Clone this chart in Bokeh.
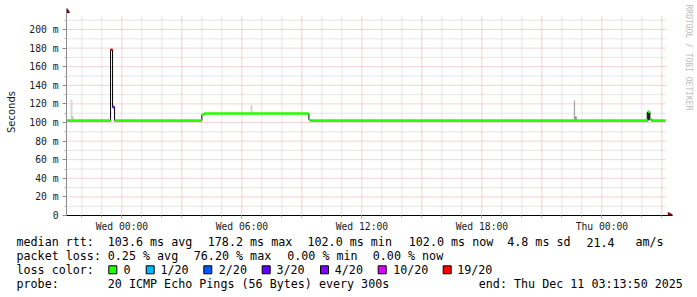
import math
import pandas as pd
from bokeh.plotting import figure
from bokeh.layouts import column
from bokeh.models import Range1d, FixedTicker
from bokeh.core.properties import value
from bokeh.embed import file_html
from bokeh.resources import INLINE

# ---------------- data ----------------
range_start = "2025-12-09 21:13:50"
range_end = "2025-12-11 03:13:50"

# median RTT (ms) as steps, with packet loss level of each step
seg_start = ["2025-12-09 21:15", "2025-12-09 23:26", "2025-12-09 23:32", "2025-12-09 23:38",
             "2025-12-10 04:00", "2025-12-10 04:06", "2025-12-10 09:21", "2025-12-10 09:25",
             "2025-12-11 02:18", "2025-12-11 02:24", "2025-12-11 02:29"]
seg_end = ["2025-12-09 23:26", "2025-12-09 23:32", "2025-12-09 23:38", "2025-12-10 04:00",
           "2025-12-10 04:06", "2025-12-10 09:21", "2025-12-10 09:25", "2025-12-11 02:18",
           "2025-12-11 02:24", "2025-12-11 02:29", "2025-12-11 03:10"]
seg_rtt_ms = [102.0, 178.2, 116.5, 102.0, 108.3, 109.6, 103.0, 102.0, 111.5, 103.5, 102.0]
seg_loss = ["0", "19/20", "3/20", "0", "0", "0", "0", "0", "0", "0", "0"]

# smoke (spread of the individual pings)
smoke_start = ["2025-12-09 21:25:50", "2025-12-09 21:28:50", "2025-12-10 06:25:50",
               "2025-12-10 22:35:40", "2025-12-10 22:38:50", "2025-12-11 02:13:50",
               "2025-12-11 02:16:50"]
smoke_end = ["2025-12-09 21:31:50", "2025-12-09 21:34:50", "2025-12-10 06:31:50",
             "2025-12-10 22:39:40", "2025-12-10 22:44:50", "2025-12-11 02:17:50",
             "2025-12-11 02:23:50"]
smoke_low = [104.0, 103.5, 110.5, 103.0, 103.0, 102.0, 102.5]
smoke_high = [124.7, 106.5, 118.5, 123.7, 106.5, 111.0, 111.5]
smoke_shade = ["#d9d9d9", "#bdbdbd", "#d4d4d4", "#a8a8a8", "#8c8c8c", "#7a7a7a", "#333333"]

loss_levels = ["0", "1/20", "2/20", "3/20", "4/20", "10/20", "19/20"]
loss_colors = ["#26ff00", "#00b8ff", "#0059ff", "#5e00ff", "#7e00ff", "#dd00ff", "#ff0000"]

y_ticks = [0, 20, 40, 60, 80, 100, 120, 140, 160, 180, 200]
y_tick_labels = ["0", "20 m", "40 m", "60 m", "80 m", "100 m", "120 m", "140 m", "160 m", "180 m", "200 m"]
y_minor = [10, 30, 50, 70, 90, 110, 130, 150, 170, 190, 210]
x_ticks = ["2025-12-10 00:00", "2025-12-10 06:00", "2025-12-10 12:00", "2025-12-10 18:00", "2025-12-11 00:00"]
x_tick_labels = ["Wed 00:00", "Wed 06:00", "Wed 12:00", "Wed 18:00", "Thu 00:00"]

stats_rtt = ["median rtt:", "103.6 ms avg", "178.2 ms max", "102.0 ms min", "102.0 ms now", "4.8 ms sd", "21.4", "am/s"]
stats_loss = ["packet loss:", "0.25 % avg", "76.20 % max", "0.00 % min", "0.00 % now"]
probe_line = ["probe:", "20 ICMP Echo Pings (56 Bytes) every 300s", "end: Thu Dec 11 03:13:50 2025"]
watermark = "RRDTOOL / TOBI OETIKER"

# ---------------- layout ----------------
def ms(s):
    return pd.Timestamp(s).value / 1e6

MS_PER_PX = 180000.0          # 20 px per hour
PX_PER_VAL = 0.93             # px per ms of rtt
t0, t1 = ms(range_start), ms(range_end)
x_end = t1 + 6 * MS_PER_PX
y_max = 207 / PX_PER_VAL
grid_top = 215

MONO = "DejaVu Sans Mono"
major_grid_col = "#e3a9a9"
minor_grid_col = "#cfcfcf"

p = figure(width=697, height=234, x_axis_type="datetime",
           x_range=Range1d(t0, x_end), y_range=Range1d(0, y_max),
           output_backend="svg", toolbar_location=None,
           min_border_left=66, min_border_right=25, min_border_top=8, min_border_bottom=19)
p.outline_line_color = None
p.background_fill_color = "white"
p.border_fill_color = "white"
p.xgrid.visible = False
p.ygrid.visible = False

hours = pd.date_range("2025-12-09 22:00", "2025-12-11 03:00", freq="1h")
x_major_grid = [ms(h) for h in hours if h.hour % 3 == 0]
x_minor_grid = [ms(h) for h in hours if h.hour % 3 != 0]

# grid lines
p.segment(x0=[t0] * len(y_minor), y0=y_minor, x1=[t1] * len(y_minor), y1=y_minor,
          line_color=minor_grid_col, line_width=1, line_dash="1 1")
p.segment(x0=x_minor_grid, y0=[0] * len(x_minor_grid), x1=x_minor_grid, y1=[grid_top] * len(x_minor_grid),
          line_color=minor_grid_col, line_width=1, line_dash="1 1")
p.segment(x0=[t0] * (len(y_ticks) - 1), y0=y_ticks[1:], x1=[t1] * (len(y_ticks) - 1), y1=y_ticks[1:],
          line_color=major_grid_col, line_width=1, line_dash="1 1")
p.segment(x0=x_major_grid, y0=[0] * len(x_major_grid), x1=x_major_grid, y1=[grid_top] * len(x_major_grid),
          line_color=major_grid_col, line_width=1, line_dash="1 1")

# smoke
p.quad(left=[ms(s) for s in smoke_start], right=[ms(s) for s in smoke_end],
       bottom=smoke_low, top=smoke_high, fill_color=smoke_shade, line_color=None)

# median line
s0 = [ms(s) for s in seg_start]
s1 = [ms(s) for s in seg_end]
p.step(x=s0 + [s1[-1]], y=seg_rtt_ms + [seg_rtt_ms[-1]], mode="after", line_color="black", line_width=1)
col_of = dict(zip(loss_levels, loss_colors))
p.segment(x0=s0, y0=seg_rtt_ms, x1=s1, y1=seg_rtt_ms,
          line_color=[col_of[l] for l in seg_loss], line_width=2.6)

# axis arrows
p.scatter(x=[t0], y=[y_max - 2.4 / PX_PER_VAL], marker="triangle", size=6,
          fill_color="#800000", line_color="#800000")
p.scatter(x=[x_end - 2.5 * MS_PER_PX], y=[0], marker="triangle", size=6, angle=-math.pi / 2,
          fill_color="#800000", line_color="#800000")

# axes
x_tick_ms = [ms(s) for s in x_ticks]
p.xaxis.ticker = FixedTicker(ticks=x_tick_ms, minor_ticks=x_major_grid + x_minor_grid)
p.xaxis.major_label_overrides = dict(zip(x_tick_ms, x_tick_labels))
p.xaxis.axis_line_color = "black"
p.xaxis.major_tick_in = 0
p.xaxis.major_tick_out = 3
p.xaxis.minor_tick_in = 0
p.xaxis.minor_tick_out = 2
p.xaxis.major_tick_line_color = "#c08080"
p.xaxis.minor_tick_line_color = "#b0b0b0"
p.xaxis.major_label_standoff = 2
p.xaxis.major_label_text_font = MONO
p.xaxis.major_label_text_font_size = "9.7px"
p.xaxis.major_label_text_color = "#1a1a1a"

p.yaxis.ticker = FixedTicker(ticks=y_ticks, minor_ticks=y_minor)
p.yaxis.major_label_overrides = dict(zip(y_ticks, y_tick_labels))
p.yaxis.axis_line_color = "#8c8c8c"
p.yaxis.major_tick_in = 0
p.yaxis.major_tick_out = 4
p.yaxis.minor_tick_in = 0
p.yaxis.minor_tick_out = 2
p.yaxis.major_tick_line_color = "#8c8c8c"
p.yaxis.minor_tick_line_color = "#b0b0b0"
p.yaxis.major_label_standoff = 4
p.yaxis.major_label_text_font = MONO
p.yaxis.major_label_text_font_size = "9.7px"
p.yaxis.major_label_text_color = "#1a1a1a"
p.yaxis.axis_label = "Seconds"
p.yaxis.axis_label_text_font = "DejaVu Sans"
p.yaxis.axis_label_text_font_size = "10px"
p.yaxis.axis_label_text_font_style = "normal"
p.yaxis.axis_label_text_color = "#1a1a1a"
p.yaxis.axis_label_standoff = 9

# watermark as an overlay-level text glyph (not clipped to the frame)
wm = p.text(x=[t0 + (688 - 66) * MS_PER_PX], y=[(215 - 4) / PX_PER_VAL], text=[watermark],
            angle=-math.pi / 2, text_align="left", text_baseline="middle",
            text_font=value(MONO), text_font_size="8px", text_color="#bdbdbd")
wm.level = "overlay"

# ---------------- legend area ----------------
# the frame of this figure is aligned with the chart's frame (66..672), so x = canvas px
lg = figure(width=697, height=63, x_range=Range1d(66, 672), y_range=Range1d(63, 0),
            output_backend="svg", toolbar_location=None,
            min_border_left=66, min_border_right=25, min_border_top=0, min_border_bottom=0,
            x_axis_type=None, y_axis_type=None)
lg.outline_line_color = None
lg.background_fill_color = "white"
lg.border_fill_color = "white"

line_y = [7.7, 21.3, 35.3, 49.3]
rtt_x = [16, 107.3, 207.3, 307, 408.3, 506.7, 586, 635]
loss_x = [16, 107.3, 193.3, 286.7, 372.3]
probe_x = [16, 107.3, 478.3]
box_x = [108.3, 145.7, 203.3, 261.7, 320, 377.7, 442.7]
lvl_x = [123, 160, 218.3, 276, 334.3, 392.7, 456.7]

tx, ty, tt = [], [], []
for xs, strs, yy in [(rtt_x, stats_rtt, line_y[0]), (loss_x, stats_loss, line_y[1]),
                     ([16] + lvl_x, ["loss color:"] + loss_levels, line_y[2]),
                     (probe_x, probe_line, line_y[3])]:
    tx += xs
    ty += [yy] * len(xs)
    tt += strs
tr = lg.text(x=tx, y=ty, text=tt, text_font=value(MONO), text_font_size="11.7px",
             text_baseline="middle", text_align="left", text_color="black")
tr.level = "overlay"
lg.rect(x=[b + 4 for b in box_x], y=[line_y[2]] * len(box_x), width=8, height=8,
        fill_color=loss_colors, line_color="black", line_width=1)

layout = column(p, lg, spacing=0)
open("out.html", "w").write(file_html(layout, INLINE))
